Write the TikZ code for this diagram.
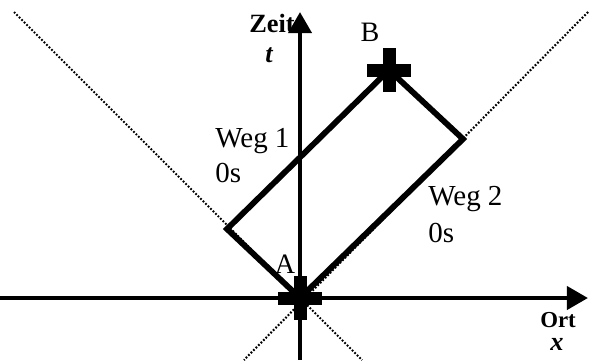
\documentclass[tikz,border=0pt]{standalone}
\usepackage{fontspec}
\setmainfont{Liberation Serif}
\usepackage{tikz}
\usetikzlibrary{arrows.meta,positioning}

\begin{document}
\begin{tikzpicture}[x=0.02cm,y=0.02cm,
    achse/.style={line width=2.6pt,-{Triangle[length=12pt,width=13pt]}},
    kegel/.style={line width=1.2pt,dash pattern=on 1pt off 1pt},
    weg/.style={line width=3.3pt,line join=miter},
    lbl/.style={inner sep=0pt,font=\fontsize{16.5}{20}\selectfont},
    ereignis/.style={inner sep=0pt,font=\fontsize{16}{19}\selectfont},
    achslbl/.style={inner sep=0pt,font=\bfseries\fontsize{15}{18}\selectfont}]
  \useasboundingbox (-300,-62) rectangle (290,298);
  % --- Punkte ---
  \coordinate (A) at (0,0);
  \coordinate (L) at (-73,69);
  \coordinate (B) at (89,228);
  \coordinate (R) at (163,159);
  % --- Lichtkegel ---
  \coordinate (k1) at (-286,286);
  \coordinate (k2) at (62,-62);
  \coordinate (k3) at (288,286);
  \coordinate (k4) at (-56,-62);
  \draw[kegel] (k1) -- (k2);
  \draw[kegel] (k3) -- (k4);
  % --- Achsen ---
  \coordinate (t0) at (0,-62);
  \coordinate (t1) at (0,286);
  \coordinate (x0) at (-300,0);
  \coordinate (x1) at (288,0);
  \draw[achse] (t0) -- (t1);
  \draw[achse] (x0) -- (x1);
  % --- Wege ---
  \draw[weg] (A) -- (L) -- (B) -- (R) -- cycle;
  % --- Kreuze ---
  \foreach \p in {A,B} {
    \fill ([shift={(-22,-6.5)}]\p) rectangle ([shift={(22,6.5)}]\p);
    \fill ([shift={(-6.5,-22)}]\p) rectangle ([shift={(6.5,22)}]\p);
  }
  % --- Beschriftung ---
  \node[achslbl,anchor=base east] (zeit) at (-5,266) {Zeit};
  \node[achslbl,anchor=base] (tlbl) at (-31,236) {\itshape t};
  \node[achslbl,anchor=base,font=\bfseries\fontsize{13}{15}\selectfont] (ort) at (258,-29) {Ort};
  \node[achslbl,anchor=base] (xlbl) at (257,-52) {\itshape x};
  \node[ereignis,anchor=base] (Blbl) at (70,257) {B};
  \node[ereignis,anchor=base] (Albl) at (-15,25) {A};
  \node[lbl,anchor=base west] (weg1) at (-85,151) {Weg 1};
  \node[lbl,anchor=base west] (zeit1) at (-85,116) {0s};
  \node[lbl,anchor=base west] (weg2) at (128,93) {Weg 2};
  \node[lbl,anchor=base west] (zeit2) at (128,56) {0s};
\end{tikzpicture}
\end{document}
